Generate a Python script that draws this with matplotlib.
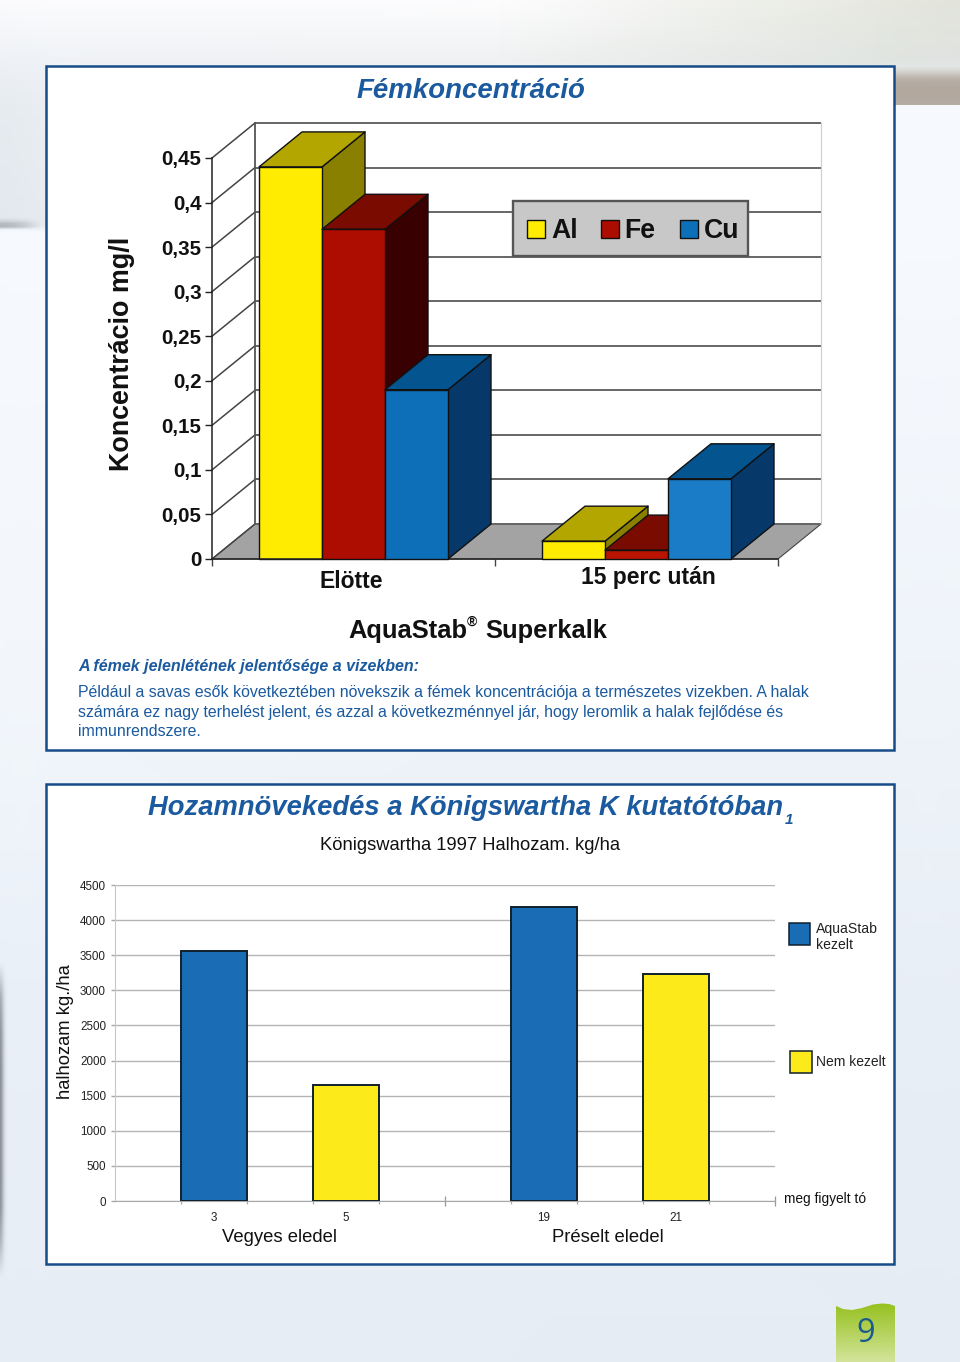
import numpy as np
import matplotlib
matplotlib.use("Agg")
import matplotlib.pyplot as plt
from matplotlib.patches import Polygon, Rectangle
from matplotlib.colors import LinearSegmentedColormap, to_rgb

plt.rcParams['font.family'] = ['Liberation Sans', 'DejaVu Sans']

# ---- data ----
metal_categories = ["Elötte", "15 perc után"]
metal_series = ["Al", "Fe", "Cu"]
al_values = [0.44, 0.02]
fe_values = [0.37, 0.01]
cu_values = [0.19, 0.09]
metal_ticks = [0, 0.05, 0.1, 0.15, 0.2, 0.25, 0.3, 0.35, 0.4, 0.45]
metal_tick_labels = ["0", "0,05", "0,1", "0,15", "0,2", "0,25", "0,3", "0,35", "0,4", "0,45"]

pond_labels = ["3", "5", "19", "21"]
pond_groups = ["Vegyes eledel", "Préselt eledel"]
pond_values = [3560, 1650, 4187, 3235]
pond_treated = [True, False, True, False]
pond_ticks = [0, 500, 1000, 1500, 2000, 2500, 3000, 3500, 4000, 4500]

W, H = 960, 1362
BLUE = "#1b5a9e"
fig = plt.figure(figsize=(W / 100, H / 100), dpi=100)


def rect_ax(x0, y0, x1, y1, z):
    return fig.add_axes([x0 / W, 1 - y1 / H, (x1 - x0) / W, (y1 - y0) / H], zorder=z)


# ---- page background ----
page = rect_ax(0, 0, W, H, 0)
bg_x = [0, 46, 500, 894, 960]
bg_y = [0, 60, 106, 226, 232, 700, 1000, 1362]
bg_hex = [
    ["#fbfbfd", "#fcfcfe", "#fdfdfe", "#e6e8df", "#e2e4da"],
    ["#eef1f5", "#eff2f6", "#f0f1f2", "#e0e4e0", "#dfe2e0"],
    ["#e6ebf0", "#eaeef3", "#f6f9fc", "#f6fafe", "#f6fafe"],
    ["#e2e8ee", "#e6ebf0", "#f6f9fc", "#f6fafe", "#f6fafe"],
    ["#f6fafe", "#f6fafe", "#f6f9fc", "#f6fafe", "#f6fafe"],
    ["#f2f6fb", "#f2f6fb", "#eef3f9", "#eef3f9", "#eef3f9"],
    ["#e8eff7", "#e8eff7", "#e9eff7", "#e8eef6", "#e8eef6"],
    ["#e6edf5", "#e6edf5", "#e7edf5", "#e6ecf4", "#e6ecf4"],
]
bg_rgb = np.array([[to_rgb(c) for c in row] for row in bg_hex])
gx, gy = np.meshgrid(bg_x, bg_y)
page.pcolormesh(gx, gy, bg_rgb, shading="gouraud", zorder=0)


def soft(extent, alpha, rgb):
    """Soft RGBA smudge of the page background; alpha is a 2D fall-off."""
    alpha = np.asarray(alpha, float)
    arr = np.dstack([np.full(alpha.shape, rgb[0]), np.full(alpha.shape, rgb[1]),
                     np.full(alpha.shape, rgb[2]), alpha])
    page.imshow(arr, extent=extent, aspect="auto", interpolation="bilinear", zorder=1)


# brown band at the top right, hard lower edge
soft((895, 960, 105, 64), np.array([[0.0, .35, .75, .95, 1, 1, 1, .95]]).T, (.70, .66, .62))
# grey smudge at the upper left
soft((0, 46, 231, 216), np.array([[0, .25, .7, .8, 0]]).T * np.array([[.9, .8, .6, .3, 0]]), (.62, .64, .66))
# dark soft edge at the lower left
fall_x = np.array([[.75, .45, .18, .05, 0]])
fall_y = np.array([[0, .6, .8, .85, .85, .85, .85, .8, .5, 0]]).T
soft((0, 9, 1295, 945), fall_y * fall_x, (.35, .37, .40))
page.set_xlim(0, W)
page.set_ylim(H, 0)
page.axis("off")

# panels
for (x0, y0, x1, y1) in [(46, 66, 894, 750), (46, 784, 894, 1264)]:
    page.add_patch(Rectangle((x0, y0), x1 - x0, y1 - y0, fc="white", ec="#174c88", lw=1.8, zorder=2))

# page tab
grad = LinearSegmentedColormap.from_list("g", ["#96c11f", "#d3e49a"])
tab = page.imshow(np.linspace(0, 1, 64)[:, None], extent=(836, 895, 1362, 1303), cmap=grad,
                  aspect="auto", zorder=2)
page.set_xlim(0, W)
page.set_ylim(H, 0)
tab_edge = Polygon([(836, 1362), (836, 1306), (843, 1309), (852, 1310), (862, 1308), (873, 1304.5),
                    (882, 1303.5), (889, 1304), (895, 1306), (895, 1362)], transform=page.transData,
                   fc="none", ec="none")
page.add_patch(tab_edge)
tab.set_clip_path(tab_edge)

# ---- 3D column chart ----
ax = rect_ax(212, 158, 778, 559, 3)
ax.set_xlim(0, 2)
ax.set_ylim(0, 0.45)
ax.patch.set_alpha(0)
for s in ("top", "right"):
    ax.spines[s].set_visible(False)
for s in ("left", "bottom"):
    ax.spines[s].set_color("#222222")
    ax.spines[s].set_linewidth(1.1)
ax.set_yticks(metal_ticks, metal_tick_labels)
ax.set_xticks([0, 1, 2], ["", "", ""])
ax.tick_params(axis="y", length=5, width=1.0, pad=2.5, labelsize=14.8, color="#222222")
ax.tick_params(axis="x", length=5, width=1.0, color="#444444")
for lab in ax.get_yticklabels():
    lab.set_fontweight("bold")
    lab.set_color("#111111")

DX = 43 / 283
DY = 35 / (401 / 0.45)
LINE = "#111111"

# floor
ax.add_patch(Polygon([(0, 0), (2, 0), (2 + DX, DY), (DX, DY)], fc="#a3a3a3", ec="#444444", lw=0.8,
                     clip_on=False, zorder=1))
# back wall and side-wall grid
for t in metal_ticks:
    ax.plot([DX, 2 + DX], [t + DY, t + DY], color="#666666", lw=1.4, clip_on=False, zorder=1.2,
            solid_capstyle="butt")
    ax.plot([0, DX], [t, t + DY], color="#444444", lw=1.1, clip_on=False, zorder=1.2)
ax.plot([DX, DX], [DY, 0.45 + DY], color="#555555", lw=1.3, clip_on=False, zorder=1.2)
ax.plot([2 + DX, 2 + DX], [DY, 0.45 + DY], color="#d0d0d0", lw=0.9, clip_on=False, zorder=1.2)

BAR_W = 63 / 283
GAP = 47 / 283
faces = [
    (al_values, ["#ffec00", "#ffec00"], "#b3a600", "#8a8000"),
    (fe_values, ["#ad0c00", "#b81400"], "#7a0b00", "#380000"),
    (cu_values, ["#0c6fb8", "#1a7cc6"], "#03548f", "#06396a"),
]
zo = 2
for c in range(2):
    for s, (vals, fronts, top_c, side) in enumerate(faces):
        x0 = c + GAP + s * BAR_W
        x1 = x0 + BAR_W
        v = vals[c]
        kw = dict(ec=LINE, lw=1.0, clip_on=False, joinstyle="round")
        ax.add_patch(Polygon([(x1, 0), (x1 + DX, DY), (x1 + DX, v + DY), (x1, v)], fc=side, zorder=zo, **kw))
        ax.add_patch(Polygon([(x0, v), (x1, v), (x1 + DX, v + DY), (x0 + DX, v + DY)], fc=top_c, zorder=zo, **kw))
        ax.add_patch(Rectangle((x0, 0), BAR_W, v, fc=fronts[c], zorder=zo, **kw))
        zo += 1

# ---- yield chart ----
ax2 = rect_ax(115, 885, 775, 1201, 3)
ax2.set_xlim(0, 10)
ax2.set_ylim(0, 4500)
ax2.patch.set_alpha(0)
for s in ("top", "right"):
    ax2.spines[s].set_visible(False)
ax2.spines["bottom"].set_color("#a8a8a8")
ax2.spines["left"].set_color("#c8c8c8")
ax2.set_yticks(pond_ticks, [str(t) for t in pond_ticks])
ax2.set_xticks([5, 10], ["", ""])
ax2.set_xticks([1, 2, 3, 4, 6, 7, 8, 9], minor=True)
ax2.tick_params(axis="y", length=3, width=1, color="#a8a8a8", labelsize=8.4, pad=3.5, labelcolor="#222222")
ax2.tick_params(axis="x", which="major", length=7, width=0.9, direction="inout", color="#999999")
ax2.tick_params(axis="x", which="minor", length=2.5, width=0.9, color="#a8a8a8")
ax2.grid(axis="y", color="#b4b4b4", lw=1)
ax2.set_axisbelow(True)
pond_x = [1.5, 3.5, 6.5, 8.5]
pond_colors = ["#1a6cb5" if t else "#fdea1a" for t in pond_treated]
ax2.bar(pond_x, pond_values, width=1, color=pond_colors, edgecolor="#10202c", linewidth=1.4, zorder=3)

# ---- overlay text ----
top = rect_ax(0, 0, W, H, 5)
top.set_xlim(0, W)
top.set_ylim(H, 0)
top.axis("off")


def T(x, y, s, size, color="black", ha="left", va="center", **kw):
    return top.text(x, y, s, fontsize=size, color=color, ha=ha, va=va, **kw)


T(471, 91, "Fémkoncentráció", 19.9, BLUE, ha="center", fontweight="bold", fontstyle="italic")
T(122, 354, "Koncentrácio mg/l", 19.4, "#111111", ha="center", rotation=90, fontweight="bold")
T(351.5, 581.5, metal_categories[0], 16.5, "#111111", ha="center", fontweight="bold")
T(648.5, 577.5, metal_categories[1], 16.5, "#111111", ha="center", fontweight="bold")
T(348, 631, "AquaStab", 18.4, "#111111", fontweight="bold")
T(467, 622, "®", 10, "#111111", fontweight="bold")
T(485, 631, "Superkalk", 18.4, "#111111", fontweight="bold")

# legend of 3D chart
top.add_patch(Rectangle((513, 201), 235, 55, fc="#c8c8c8", ec="#555555", lw=1.7))
for x, lab, xt, (_, fr, _, _) in zip([527, 601, 680], metal_series, [551, 624, 704], faces):
    top.add_patch(Rectangle((x, 220), 18, 18, fc=fr[0], ec="#111111", lw=1.0))
    T(xt, 231, lab, 19.2, "#111111", fontweight="bold")

T(78, 667, "A fémek jelenlétének jelentősége a vizekben:", 11.5, BLUE, fontweight="bold", fontstyle="italic")
T(78, 693, "Például a savas esők következtében növekszik a fémek koncentrációja a természetes vizekben. A halak",
  11.48, BLUE)
T(78, 712.5, "számára ez nagy terhelést jelent, és azzal a következménnyel jár, hogy leromlik a halak fejlődése és",
  11.48, BLUE)
T(78, 732, "immunrendszere.", 11.48, BLUE)

T(148, 808, "Hozamnövekedés a Königswartha K kutatótóban", 19.75, BLUE, fontweight="bold", fontstyle="italic")
T(785, 820, "1", 11, BLUE, fontweight="bold", fontstyle="italic")
T(470, 845, "Königswartha 1997 Halhozam. kg/ha", 13.2, "#111111", ha="center")
T(65, 1032, "halhozam kg./ha", 13.2, "#111111", ha="center", rotation=90)

for x, lab in zip(pond_x, pond_labels):
    top.text(115 + 66 * x, 1218, lab, fontsize=8.4, color="#222222", ha="center", va="center")
T(280, 1238, pond_groups[0], 13.3, "#111111", ha="center")
T(608, 1238, pond_groups[1], 13.3, "#111111", ha="center")

top.add_patch(Rectangle((789, 923), 21, 22, fc="#1a6cb5", ec="#10202c", lw=1.1))
top.add_patch(Rectangle((790, 1051), 22, 22, fc="#fdea1a", ec="#10202c", lw=1.1))
T(816, 929, "AquaStab", 10.1, "#222222")
T(816, 945, "kezelt", 10.1, "#222222")
T(816, 1062, "Nem kezelt", 10.0, "#222222")
T(784, 1199, "meg figyelt tó", 9.9, "#111111")
T(866, 1334, "9", 23.5, "#1b5a8e", ha="center", fontfamily=["Open Sans", "DejaVu Sans"])

fig.savefig("out.png", dpi=100)
